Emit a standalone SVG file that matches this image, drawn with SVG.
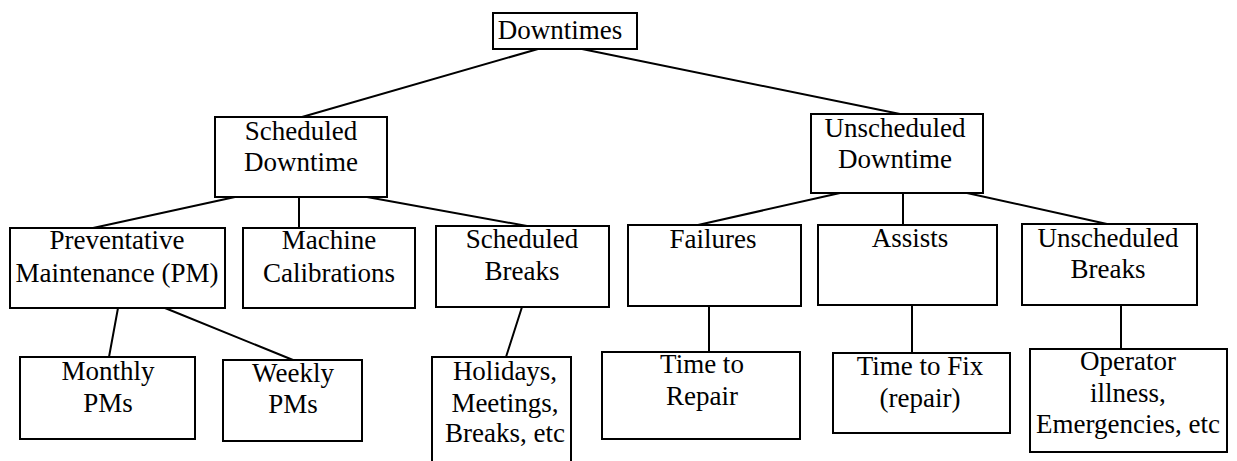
<svg xmlns="http://www.w3.org/2000/svg" width="1237" height="461" viewBox="0 0 1237 461">
  <style>
    .box { fill: #ffffff; stroke: #000000; stroke-width: 2; }
    .link { stroke: #000000; stroke-width: 2; fill: none; stroke-linecap: round; }
    text { font-family: "Liberation Serif", "Times New Roman", serif; font-size: 27px; fill: #000000; text-anchor: middle; }
  </style>
  <rect width="1237" height="461" fill="#ffffff"/>

  <!-- tree connectors -->
  <g id="connectors">
    <line class="link" x1="538" y1="49" x2="302" y2="117"/>
    <line class="link" x1="582" y1="49" x2="900" y2="114"/>
    <line class="link" x1="235" y1="197" x2="93" y2="228"/>
    <line class="link" x1="299" y1="197" x2="299" y2="228"/>
    <line class="link" x1="367" y1="197" x2="527" y2="226"/>
    <line class="link" x1="840" y1="193" x2="698" y2="225"/>
    <line class="link" x1="903" y1="193" x2="903" y2="225"/>
    <line class="link" x1="967" y1="193" x2="1107" y2="224"/>
    <line class="link" x1="118" y1="308" x2="109" y2="357"/>
    <line class="link" x1="165" y1="308" x2="293" y2="360"/>
    <line class="link" x1="522" y1="307" x2="506" y2="357"/>
    <line class="link" x1="709" y1="306" x2="709" y2="352"/>
    <line class="link" x1="912" y1="305" x2="912" y2="353"/>
    <line class="link" x1="1121" y1="305" x2="1121" y2="349"/>
  </g>

  <!-- root -->
  <g id="downtimes">
    <rect class="box" x="493" y="13" width="144" height="36"/>
    <text x="560" y="39">Downtimes</text>
  </g>

  <!-- second level -->
  <g id="scheduled-downtime">
    <rect class="box" x="215" y="117" width="172" height="80"/>
    <text x="301" y="140">Scheduled</text>
    <text x="301" y="171">Downtime</text>
  </g>
  <g id="unscheduled-downtime">
    <rect class="box" x="811" y="114" width="172" height="79"/>
    <text x="895" y="137">Unscheduled</text>
    <text x="895" y="168">Downtime</text>
  </g>

  <!-- third level -->
  <g id="preventative-maintenance">
    <rect class="box" x="10" y="228" width="215" height="80"/>
    <text x="117" y="249">Preventative</text>
    <text x="117" y="282">Maintenance (PM)</text>
  </g>
  <g id="machine-calibrations">
    <rect class="box" x="243" y="228" width="172" height="80"/>
    <text x="329" y="249">Machine</text>
    <text x="329" y="282">Calibrations</text>
  </g>
  <g id="scheduled-breaks">
    <rect class="box" x="436" y="226" width="173" height="81"/>
    <text x="522" y="248">Scheduled</text>
    <text x="522" y="280">Breaks</text>
  </g>
  <g id="failures">
    <rect class="box" x="628" y="225" width="173" height="81"/>
    <text x="713" y="248">Failures</text>
  </g>
  <g id="assists">
    <rect class="box" x="818" y="225" width="179" height="80"/>
    <text x="910" y="247">Assists</text>
  </g>
  <g id="unscheduled-breaks">
    <rect class="box" x="1022" y="224" width="175" height="81"/>
    <text x="1108" y="247">Unscheduled</text>
    <text x="1108" y="278">Breaks</text>
  </g>

  <!-- leaves -->
  <g id="monthly-pms">
    <rect class="box" x="20" y="357" width="175" height="82"/>
    <text x="108" y="380">Monthly</text>
    <text x="108" y="412">PMs</text>
  </g>
  <g id="weekly-pms">
    <rect class="box" x="223" y="360" width="139" height="81"/>
    <text x="293" y="382">Weekly</text>
    <text x="293" y="413">PMs</text>
  </g>
  <g id="holidays">
    <rect class="box" x="432" y="357" width="139" height="115"/>
    <text x="505" y="380">Holidays,</text>
    <text x="505" y="412">Meetings,</text>
    <text x="505" y="442">Breaks, etc</text>
  </g>
  <g id="time-to-repair">
    <rect class="box" x="602" y="352" width="198" height="87"/>
    <text x="702" y="373">Time to</text>
    <text x="702" y="405">Repair</text>
  </g>
  <g id="time-to-fix">
    <rect class="box" x="833" y="353" width="177" height="80"/>
    <text x="920" y="375">Time to Fix</text>
    <text x="920" y="407">(repair)</text>
  </g>
  <g id="operator-illness">
    <rect class="box" x="1030" y="349" width="197" height="103"/>
    <text x="1128" y="370">Operator</text>
    <text x="1128" y="402">illness,</text>
    <text x="1128" y="433">Emergencies, etc</text>
  </g>
</svg>
